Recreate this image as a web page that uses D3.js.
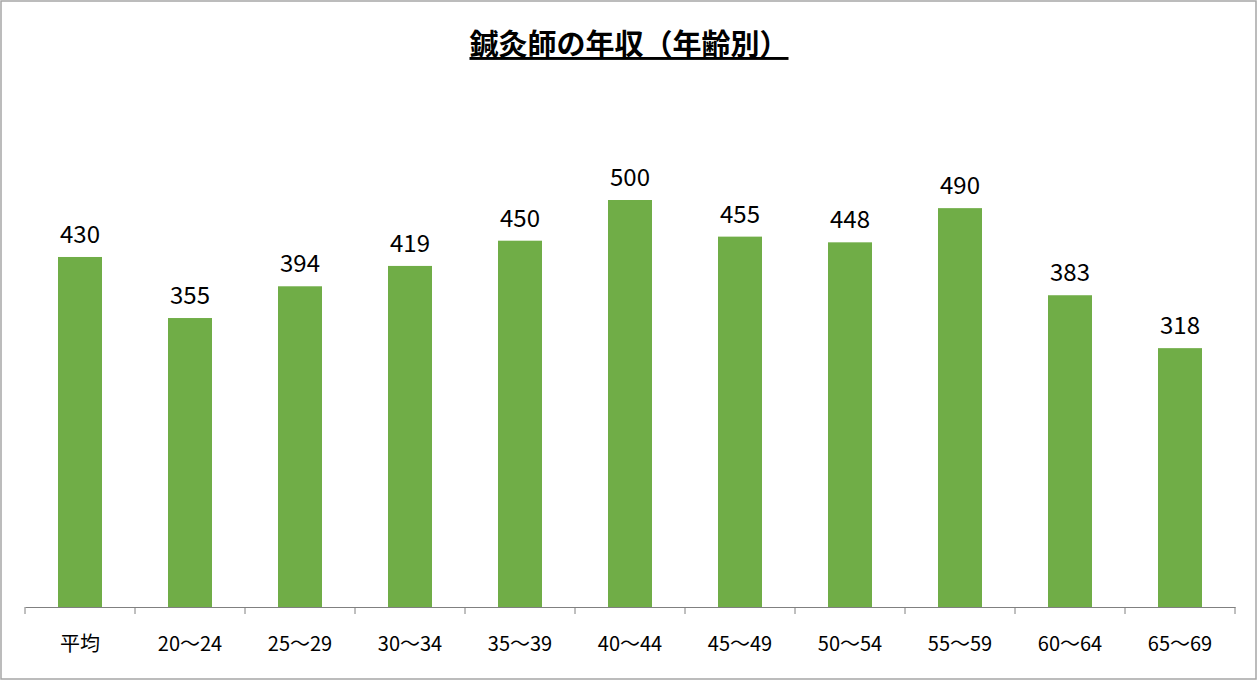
<!DOCTYPE html>
<html><head><meta charset="utf-8">
<script src="https://cdn.jsdelivr.net/npm/d3@7"></script>
<style>body{margin:0;background:#fff}</style>
</head><body>
<svg id="c" width="1258" height="681"></svg>
<script>
const categories=["平均","20～24","25～29","30～34","35～39","40～44","45～49","50～54","55～59","60～64","65～69"];
const values=[430,355,394,419,450,500,455,448,490,383,318];
const title="鍼灸師の年収（年齢別）";
const svg=d3.select("#c");
const font="'Noto Sans CJK JP','Noto Sans',sans-serif";
svg.append("rect").attr("x",1).attr("y",1).attr("width",1255).attr("height",678).attr("fill","#fff").attr("stroke","#a6a6a6").attr("stroke-width",1.5);
const x=d3.scaleBand().domain(categories).range([25,1235]).paddingInner(0.6).paddingOuter(0.3);
const y=d3.scaleLinear().domain([0,500]).range([607,200]);
svg.selectAll(".bar").data(values).enter().append("rect")
 .attr("x",(d,i)=>x(categories[i])).attr("width",x.bandwidth())
 .attr("y",d=>y(d)).attr("height",d=>y(0)-y(d)).attr("fill","#70AD47");
svg.selectAll(".lbl").data(values).enter().append("text")
 .attr("x",(d,i)=>x(categories[i])+x.bandwidth()/2).attr("y",d=>y(d)-14)
 .attr("text-anchor","middle").attr("font-size",24).attr("font-family",font).attr("fill","#000").text(d=>d);
const ax=d3.axisBottom(x).tickSize(0).tickPadding(30);
const g=svg.append("g").attr("transform","translate(0,607)").call(ax);
g.select(".domain").attr("stroke","#808080");
g.selectAll("text").attr("font-size",20).attr("font-family",font).attr("fill","#000");
const bounds=d3.range(categories.length+1).map(i=>25+i*1210/categories.length);
svg.selectAll(".tk").data(bounds).enter().append("line")
 .attr("x1",d=>d).attr("x2",d=>d).attr("y1",607).attr("y2",614).attr("stroke","#808080");
svg.append("text").attr("x",629).attr("y",55).attr("text-anchor","middle")
 .attr("font-size",29).attr("font-weight","bold").attr("font-family",font)
 .attr("text-decoration","underline").attr("fill","#000").text(title);
</script>
</body></html>
